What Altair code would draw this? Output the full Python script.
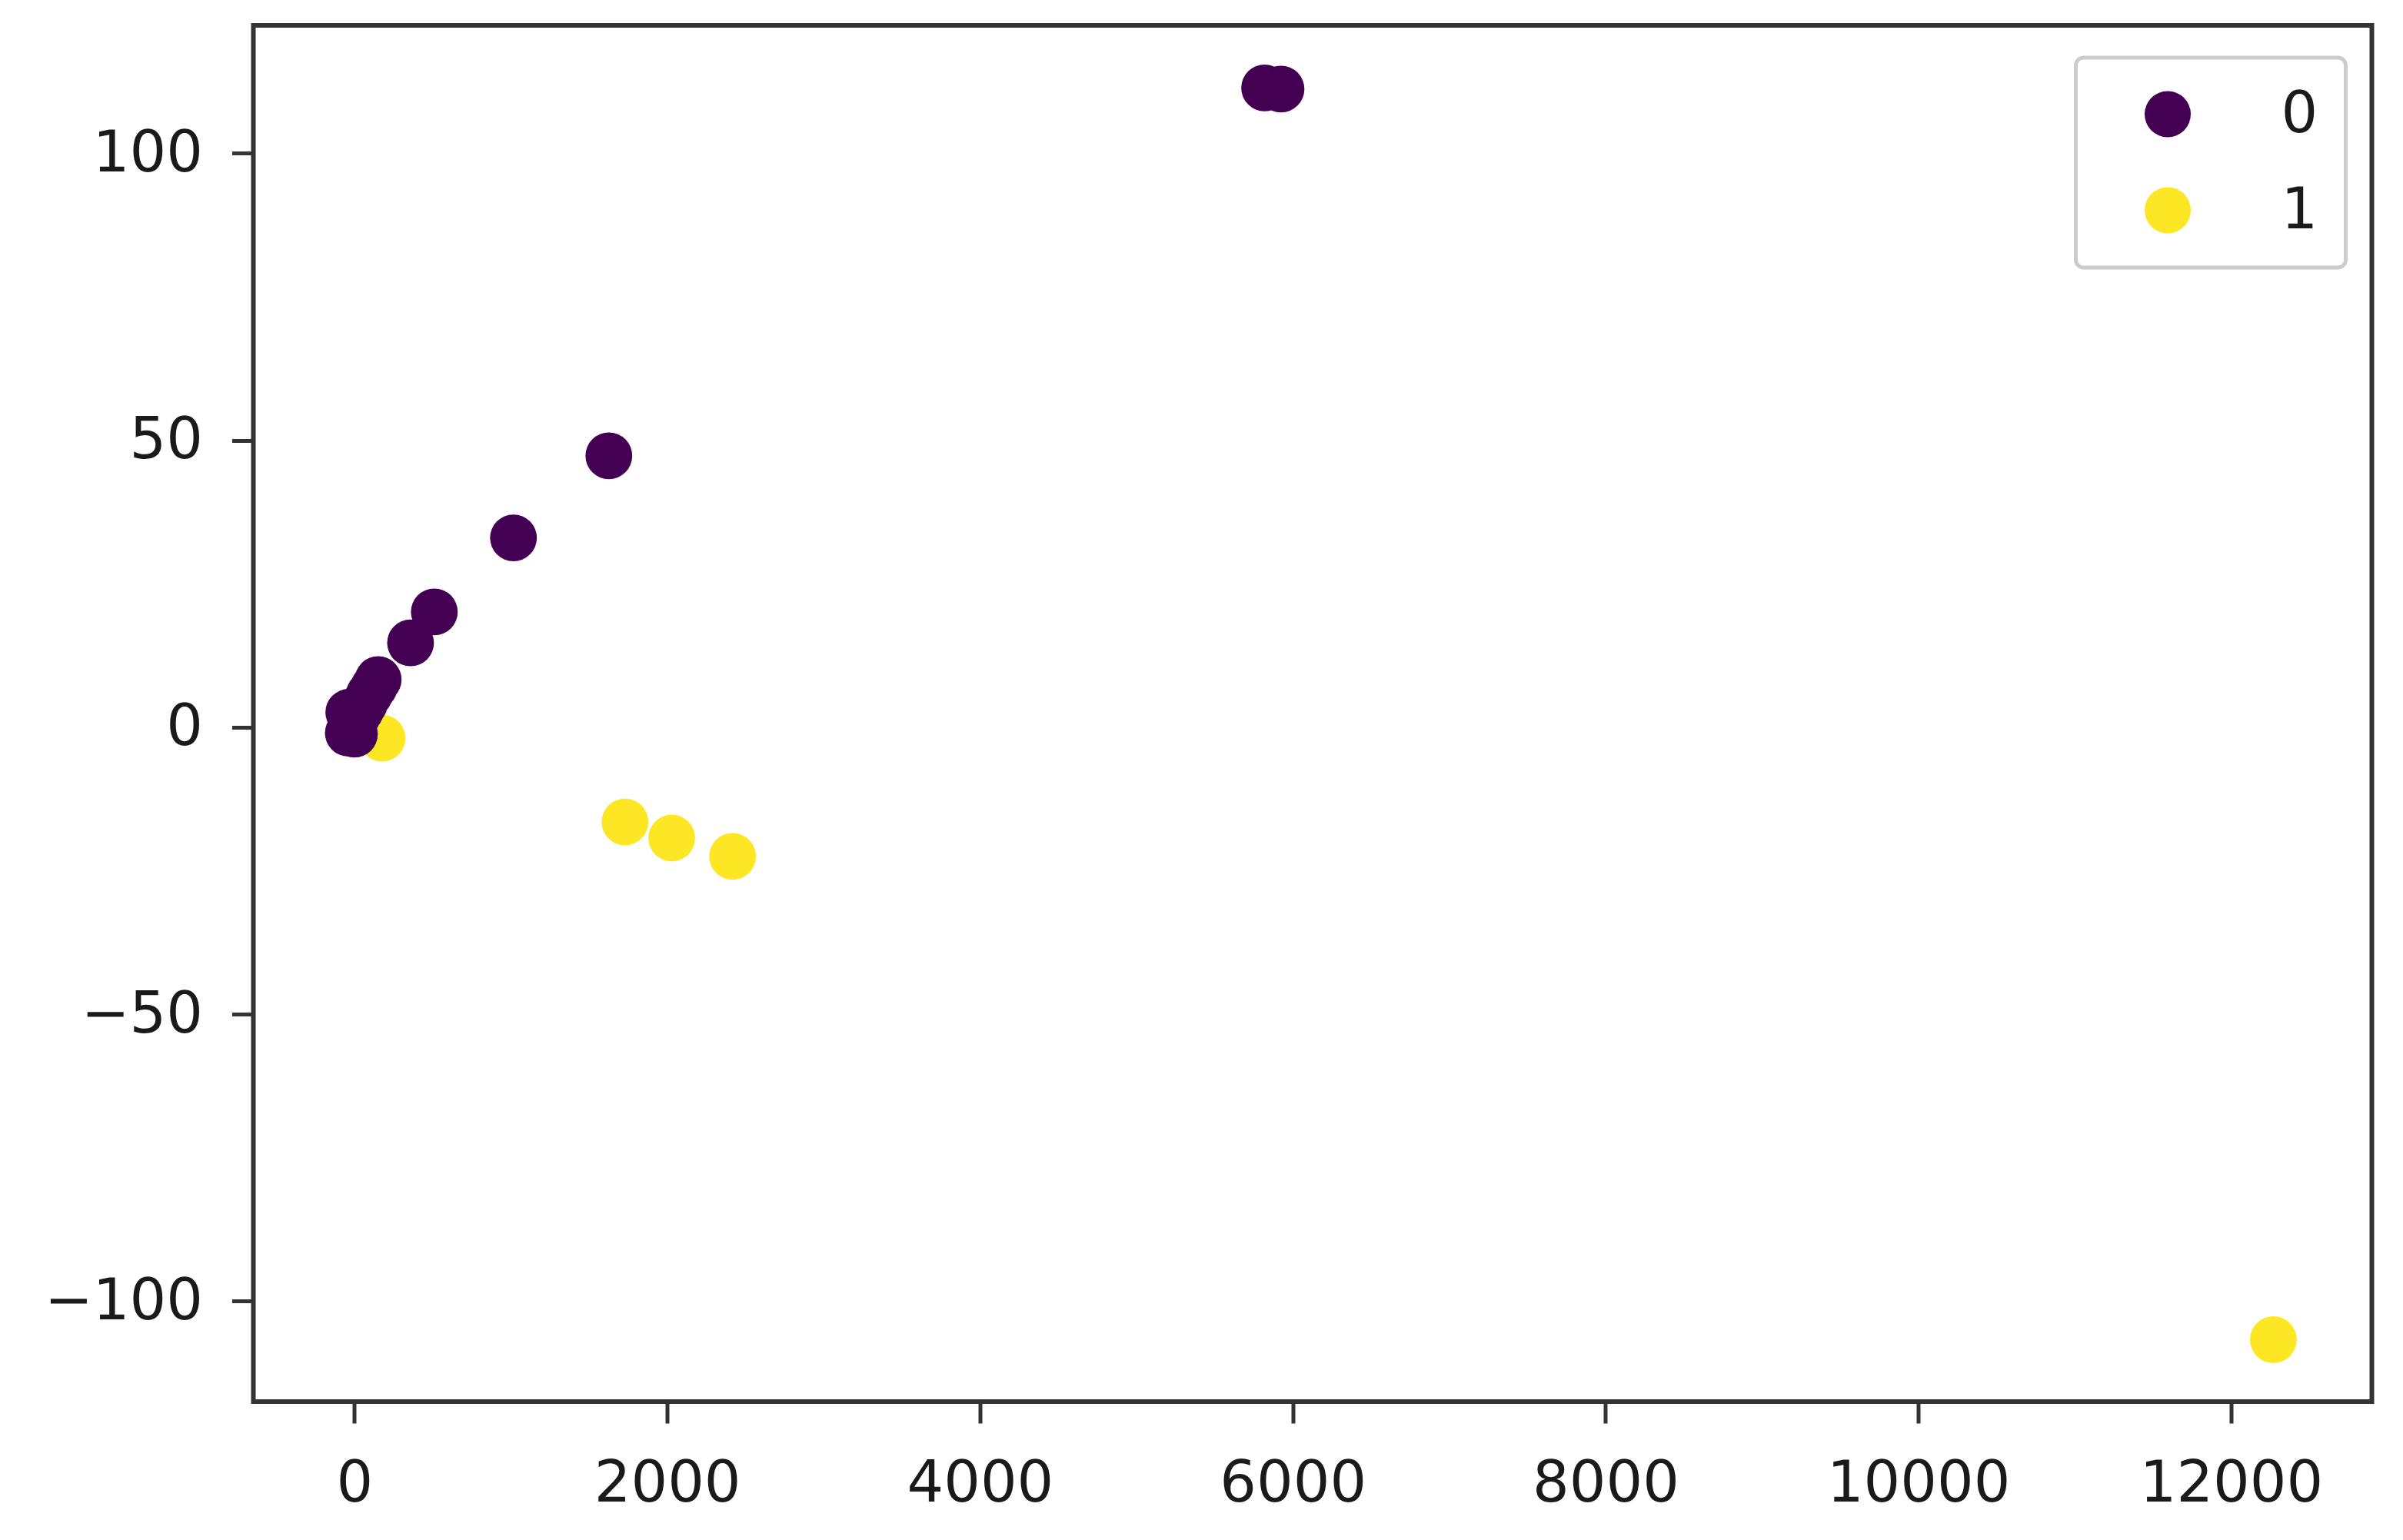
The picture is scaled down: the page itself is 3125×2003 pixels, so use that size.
import altair as alt
import pandas as pd

# Class 1 (yellow) points first so class 0 draws on top, as in the reference
x_class1 = [177, 1730, 2029, 2418, 12270]
y_class1 = [-1.9, -16.5, -19.3, -22.5, -106.7]

x_class0 = [-39, -36, 0, -12, 15, 40, 65, 95, 125, 152, 359, 511, 1017, 1627, 5820, 5925]
y_class0 = [-1.0, 2.6, -1.2, 0.4, 1.8, 3.0, 4.2, 5.7, 7.0, 8.3, 14.7, 20.1, 33.0, 47.3, 111.4, 111.2]

labels = ["0", "1"]
colors = ["#440154", "#fde725"]

x_ticks = [0, 2000, 4000, 6000, 8000, 10000, 12000]
y_ticks = [-100, -50, 0, 50, 100]

df = pd.DataFrame({
    "x": x_class1 + x_class0,
    "y": y_class1 + y_class0,
    "label": ["1"] * len(x_class1) + ["0"] * len(x_class0),
})

FONT = "DejaVu Sans"
TEXT = "#1a1a1a"
FRAME = "#333333"

chart = alt.Chart(df).mark_circle(size=3700, opacity=1).encode(
    x=alt.X("x:Q",
            scale=alt.Scale(domain=[-646, 12900], nice=False, zero=False),
            axis=alt.Axis(values=x_ticks, format="d", title=None, grid=False,
                          domain=False, tickSize=28, tickWidth=5, tickColor=FRAME,
                          labelFont=FONT, labelFontSize=75, labelColor=TEXT,
                          labelPadding=42, labelLimit=600)),
    y=alt.Y("y:Q",
            scale=alt.Scale(domain=[-117.5, 122.3], nice=False, zero=False),
            axis=alt.Axis(values=y_ticks, format="d", title=None, grid=False,
                          domain=False, tickSize=28, tickWidth=5, tickColor=FRAME,
                          labelFont=FONT, labelFontSize=75, labelColor=TEXT,
                          labelPadding=38, labelLimit=600)),
    color=alt.Color("label:N",
                    scale=alt.Scale(domain=labels, range=colors),
                    legend=alt.Legend(title=None, orient="none",
                                      legendX=2370, legendY=42,
                                      symbolType="circle", symbolSize=3600,
                                      symbolStrokeWidth=0, symbolOpacity=1,
                                      symbolOffset=46, labelOffset=110,
                                      labelFont=FONT, labelFontSize=75,
                                      labelColor=TEXT, padding=36,
                                      rowPadding=49, labelLimit=400,
                                      strokeColor="#cccccc", cornerRadius=10,
                                      fillColor="white")),
).properties(
    width=2755,
    height=1790,
    autosize=alt.AutoSizeParams(type="none"),
    padding={"left": 321.5, "top": 25, "right": 30, "bottom": 170},
    background="white",
).configure_view(
    stroke=FRAME, strokeWidth=6
).configure_legend(
    strokeWidth=5
)

chart.save("out.html", embed_options={"renderer": "svg", "actions": False})
